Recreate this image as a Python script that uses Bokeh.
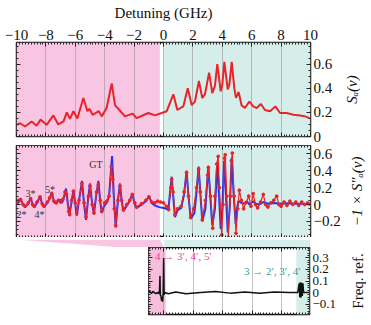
import math
from bokeh.plotting import figure
from bokeh.layouts import column, row
from bokeh.models import (Range1d, LinearAxis, SingleIntervalTicker, BoxAnnotation, Spacer,
                          Label, CustomJSTickFormatter, Grid, ColumnDataSource, Title)
from bokeh.core.properties import value
from bokeh.embed import file_html
from bokeh.resources import INLINE

FONT = "Liberation Serif"
PINK = "#f8c6e3"
CYAN = "#d6eeea"
RED = "#e8232a"
BLUE = "#1f35f0"

# ---------------- data ----------------
# Panel 1: S_a(nu)
sa_x = [-10, -9.76, -9.42, -8.97, -8.63, -8.36, -7.95, -7.49, -7.16, -6.8, -6.58, -6.36, -6.13,
        -5.86, -5.45, -5.18, -5.04, -4.82, -4.4, -4.2, -3.87, -3.52, -3.3, -3.0, -2.62, -2.1,
        -1.83, -1.03, -0.58, -0.12, 0.22, 0.67, 0.94, 1.35, 1.65, 1.92, 2.14, 2.41, 2.64, 2.82,
        3.1, 3.32, 3.5, 3.66, 3.89, 4.0, 4.14, 4.37, 4.48, 4.64, 4.82, 4.93, 5.11, 5.31, 5.54,
        5.84, 6.11, 6.34, 6.63, 6.9, 7.25, 7.61, 7.93, 8.38, 8.84, 9.3, 9.63, 9.93]
sa_y = [0.097, 0.11, 0.083, 0.125, 0.09, 0.14, 0.097, 0.175, 0.10, 0.125, 0.2, 0.147, 0.21,
        0.15, 0.32, 0.21, 0.23, 0.18, 0.21, 0.167, 0.236, 0.44, 0.26, 0.22, 0.167, 0.19,
        0.153, 0.195, 0.175, 0.195, 0.21, 0.35, 0.22, 0.25, 0.40, 0.26, 0.29, 0.46, 0.32, 0.35,
        0.53, 0.36, 0.42, 0.60, 0.375, 0.43, 0.62, 0.39, 0.43, 0.62, 0.40, 0.32, 0.37, 0.26, 0.236,
        0.29, 0.25, 0.236, 0.27, 0.22, 0.21, 0.25, 0.195, 0.195, 0.18, 0.175, 0.167, 0.153]

# Panel 2: model (blue) and measured (red) dispersion
mod_x = [-10, -9.85, -9.72, -9.55, -9.42, -9.2, -9.04, -8.9, -8.79, -8.6, -8.4, -8.25, -8.13,
         -7.9, -7.72, -7.6, -7.45, -7.38, -7.2, -7.04, -6.9, -6.75, -6.63, -6.5, -6.4, -6.28,
         -6.13, -6.0, -5.9, -5.72, -5.54, -5.4, -5.27, -5.12, -5.0, -4.85, -4.73, -4.57, -4.43,
         -4.3, -4.2, -4.05, -3.87, -3.7, -3.5, -3.38, -3.25, -3.1, -2.96, -2.85, -2.73, -2.5,
         -2.3, -2.12, -1.95, -1.83, -1.5, -1.2, -0.99, -0.8, -0.6, -0.3, 0.0, 0.2, 0.33, 0.45,
         0.56, 0.66, 0.78, 0.95, 1.2, 1.4, 1.57, 1.7, 1.85, 2.1, 2.25, 2.39, 2.52, 2.64, 2.85,
         3.05, 3.18, 3.32, 3.5, 3.66, 3.78, 3.89, 4.0, 4.12, 4.25, 4.37, 4.5, 4.64, 4.78, 4.91,
         5.0, 5.09, 5.3, 5.45, 5.66, 5.85, 6.11, 6.3, 6.5, 6.79, 7.1, 7.4, 7.7, 8.0, 8.5, 9.0,
         9.5, 10.0]
mod_y = [0.0, 0.03, 0.06, 0.0, -0.03, 0.01, 0.08, 0.0, -0.03, 0.02, 0.10, 0.0, -0.03,
         0.02, 0.08, 0.15, 0.03, 0.02, 0.04, 0.06, 0.02, 0.10, 0.19, 0.0, -0.11, 0.0,
         0.17, 0.0, -0.13, 0.08, 0.28, 0.0, -0.18, 0.08, 0.25, 0.0, -0.11, 0.12, 0.28,
         0.03, -0.1, -0.02, 0.02, 0.1, 0.575, 0.1, -0.27, 0.05, 0.25, 0.05, -0.08, -0.01,
         0.04, 0.13, 0.0, -0.04, 0.0, 0.04, 0.10, 0.02, -0.01, -0.03, -0.04, -0.05, -0.06, 0.15,
         0.33, 0.1, -0.15, -0.07, -0.04, 0.12, 0.40, 0.1, -0.17, -0.1, 0.15, 0.45, 0.1, -0.2, -0.05,
         0.46, 0.1, -0.25, -0.05, 0.50, 0.1, -0.29, -0.05, 0.52, 0.1, -0.33, -0.05, 0.55, 0.1, -0.23,
         -0.05, 0.04, 0.02, 0.01, 0.04, 0.0, 0.04, 0.01, 0.0, 0.03, 0.01, 0.02, 0.015, 0.01, 0.015, 0.01,
         0.01, 0.0]

meas_x = [-10, -9.85, -9.72, -9.55, -9.42, -9.2, -9.04, -8.9, -8.79, -8.6, -8.4, -8.25, -8.13,
          -7.9, -7.75, -7.6, -7.45, -7.3, -7.15, -7.0, -6.85, -6.7, -6.6, -6.45, -6.38, -6.25,
          -6.13, -6.0, -5.9, -5.75, -5.55, -5.4, -5.27, -5.1, -5.0, -4.85, -4.73, -4.55, -4.43,
          -4.3, -4.2, -4.0, -3.85, -3.7, -3.55, -3.45, -3.35, -3.25, -3.1, -2.96, -2.85, -2.73,
          -2.5, -2.3, -2.12, -1.95, -1.83, -1.5, -1.2, -0.99, -0.8, -0.6, -0.4, -0.2, 0.0,
          0.2, 0.35, 0.5, 0.56, 0.65, 0.78, 0.95, 1.2, 1.4, 1.57, 1.7, 1.85, 2.05, 2.25, 2.39,
          2.5, 2.64, 2.85, 3.0, 3.05, 3.2, 3.35, 3.5, 3.62, 3.72, 3.8, 3.96, 4.05, 4.15, 4.2,
          4.3, 4.41, 4.55, 4.62, 4.68, 4.8, 4.93, 5.05, 5.16, 5.3, 5.45, 5.6, 5.8, 5.95, 6.1,
          6.25, 6.4, 6.6, 6.79, 6.95, 7.1, 7.3, 7.5, 7.7, 7.85, 8.0, 8.2, 8.4, 8.6, 8.8, 9.0,
          9.2, 9.4, 9.6, 9.8, 10.0]
meas_y = [0.01, 0.05, 0.06, 0.0, -0.02, 0.02, 0.07, 0.0, -0.02, 0.03, 0.09, 0.01, -0.02,
          0.03, 0.08, 0.13, 0.04, 0.02, 0.05, 0.03, 0.06, 0.15, 0.12, -0.08, -0.12, 0.05,
          0.16, 0.02, -0.10, 0.05, 0.25, 0.02, -0.15, 0.1, 0.22, 0.0, -0.1, 0.15, 0.24,
          0.05, -0.08, 0.02, 0.04, 0.1, 0.45, 0.3, -0.05, -0.25, 0.05, 0.22, 0.05, -0.06,
          0.0, 0.05, 0.12, 0.02, -0.03, 0.01, 0.05, 0.09, 0.03, 0.02, 0.04, 0.03, 0.02,
          -0.02, -0.06, 0.2, 0.30, 0.15, -0.12, -0.05, -0.02, 0.15, 0.38, 0.1, -0.15, -0.05, 0.2, 0.42,
          0.15, -0.18, 0.05, 0.35, 0.44, 0.1, -0.28, 0.1, 0.48, 0.57, 0.2, -0.36, 0.0, 0.55, 0.59,
          0.1, -0.39, 0.1, 0.52, 0.61, 0.1, -0.34, -0.05, 0.17, 0.05, -0.05, 0.02, 0.10, -0.02, 0.13,
          0.0, -0.04, 0.03, 0.12, 0.0, -0.03, 0.02, 0.05, 0.10, 0.0, -0.02, 0.03, -0.01, 0.04, 0.0, 0.03,
          -0.01, 0.03, 0.0, 0.02, 0.01]

# Panel 3: frequency reference
ref_x = [-1.05, -0.95, -0.85, -0.75, -0.65, -0.55, -0.45, -0.35, -0.3, -0.27, -0.25, -0.2,
         -0.17, -0.13, -0.09, -0.05, -0.02, 0.01, 0.05, 0.3, 0.8, 1.5, 2.5, 3.5, 4.5, 5.5,
         6.5, 7.5, 8.5, 9.1, 9.2, 9.24, 9.28, 9.32, 9.37, 9.41, 9.45, 9.5, 9.7, 9.9]
ref_y = [0.0, 0.01, -0.01, 0.01, 0.0, -0.01, 0.0, -0.01, 0.02, 0.145, -0.02, -0.03,
         -0.07, -0.04, -0.08, 0.0, 0.30, -0.02, 0.0, -0.01, 0.005, -0.01, 0.0, 0.01, -0.005, 0.005,
         -0.005, 0.005, 0.0, 0.0, 0.08, -0.04, 0.09, -0.045, 0.085, -0.03, 0.08, 0.0, 0.0, 0.0]

peak_labels = ["2*", "3*", "4*", "5*", "GT"]
peak_lx = [-9.66, -9.05, -8.44, -7.72, -4.59]
peak_ly = [-0.118, 0.134, -0.118, 0.175, 0.48]

pink_span = (-10, -0.25)
cyan_span = (0, 10)
ref_pink_span = (-1.05, 0.12)
ref_cyan_span = (9.0, 9.9)

# ---------------- helpers ----------------
fmt = CustomJSTickFormatter(code="""
const v = Math.round(tick*100)/100;
return (v < 0 ? '\u2212' : '') + Math.abs(v).toString();
""")
blank_fmt = CustomJSTickFormatter(code="return '';")


def style_axis(ax, labels, size="15px"):
    ax.major_tick_in = 4
    ax.major_tick_out = 0
    ax.minor_tick_in = 2
    ax.minor_tick_out = 0
    ax.axis_line_color = None
    ax.major_tick_line_color = "#222222"
    ax.minor_tick_line_color = "#222222"
    ax.major_tick_line_width = 1
    ax.minor_tick_line_width = 1
    ax.major_label_text_font = FONT
    ax.major_label_text_color = "#111111"
    ax.major_label_text_font_size = size
    if labels:
        ax.major_label_standoff = 3
        ax.formatter = fmt
    else:
        ax.major_label_standoff = 0
        ax.formatter = blank_fmt


def make_panel(xr, yr, fw, fh, mbl, mbr, mbt, mbb, xint, xminor, yint, yminor,
               top_labels=False, ysize="15px"):
    p = figure(x_range=xr, y_range=yr, frame_width=fw, frame_height=fh,
               x_axis_type=None, y_axis_type=None, output_backend="svg",
               toolbar_location=None, min_border_left=mbl, min_border_right=mbr,
               min_border_top=mbt, min_border_bottom=mbb)
    p.outline_line_color = "#111111"
    p.outline_line_width = 1.5
    p.background_fill_color = "white"
    p.border_fill_color = None
    for side in ["above", "below"]:
        ax = LinearAxis(ticker=SingleIntervalTicker(interval=xint, num_minor_ticks=xminor))
        style_axis(ax, labels=(side == "above" and top_labels))
        p.add_layout(ax, side)
    for side in ["left", "right"]:
        ax = LinearAxis(ticker=SingleIntervalTicker(interval=yint, num_minor_ticks=yminor))
        style_axis(ax, labels=(side == "right"), size=ysize)
        p.add_layout(ax, side)
    g = Grid(dimension=0, ticker=SingleIntervalTicker(interval=xint, num_minor_ticks=xminor),
             grid_line_color="#9a9a9a", grid_line_alpha=0.6, grid_line_width=1)
    p.add_layout(g)
    return p


def label_fig(text, style, fh, mbt, mbb):
    f = figure(frame_width=1, frame_height=fh, x_axis_type=None, y_axis_type=None,
               output_backend="svg", toolbar_location=None, min_border_left=0,
               min_border_right=0, min_border_top=mbt, min_border_bottom=mbb)
    f.outline_line_color = None
    f.background_fill_color = None
    f.border_fill_color = None
    f.grid.visible = False
    f.add_layout(Title(text=text, align="center", text_font=FONT, text_font_size="15px",
                       text_font_style=style, text_color="#111111", standoff=0), "left")
    return f


def add_spans(p, spans, colors):
    for (l, r), c in zip(spans, colors):
        b = BoxAnnotation(left=l, right=r, fill_color=c, fill_alpha=1.0, line_color=None, level="image")
        p.add_layout(b)


# ---------------- panel 1 ----------------
p1 = make_panel(Range1d(-10, 10), Range1d(0, 0.78), 294, 94, 16, 31, 0, 9, 2, 10, 0.2, 4,
                top_labels=True)
top_ax = p1.above[0]
top_ax.axis_label = "Detuning (GHz)"
top_ax.axis_label_text_font = FONT
top_ax.axis_label_text_font_style = "normal"
top_ax.axis_label_text_font_size = "15px"
top_ax.axis_label_text_color = "#111111"
top_ax.axis_label_standoff = 6
add_spans(p1, [pink_span, cyan_span], [PINK, CYAN])
p1.line(sa_x, sa_y, line_color=RED, line_width=2)
l1 = label_fig("Sₐ(ν)", "italic", 94, 42, 9)

# ---------------- panel 2 ----------------
p2 = make_panel(Range1d(-10, 10), Range1d(-0.39, 0.70), 294, 92, 16, 36, 0, 0, 2, 10, 0.2, 4)
add_spans(p2, [pink_span, cyan_span], [PINK, CYAN])
p2.line(mod_x, mod_y, line_color=BLUE, line_width=2)
p2.line(meas_x, meas_y, line_color=RED, line_width=1.2)
p2.scatter(meas_x, meas_y, size=2.8, color=RED)
src = ColumnDataSource(dict(x=peak_lx, y=peak_ly, t=peak_labels))
p2.text(x="x", y="y", text="t", source=src, text_font=value(FONT), text_font_size="10px",
        text_align="center", text_baseline="middle", text_color="#333333")
l2 = label_fig("−1 × S″ₐ(ν)", "italic", 92, 0, 0)

# ---------------- connector ----------------
conn = figure(x_range=Range1d(-10, 10), y_range=Range1d(0, 1), width=310, height=10,
              x_axis_type=None, y_axis_type=None, output_backend="svg", toolbar_location=None,
              min_border_left=16, min_border_right=0, min_border_top=0, min_border_bottom=0)
conn.outline_line_color = None
conn.background_fill_color = None
conn.border_fill_color = None
conn.patch([cyan_span[0], cyan_span[1], ref_cyan_span[1] + 0.1, ref_pink_span[1]], [1, 1, 0, 0],
           fill_color=CYAN, line_color=None)
conn.patch([pink_span[0], pink_span[1], ref_pink_span[1], ref_pink_span[0]], [1, 1, 0, 0],
           fill_color=PINK, line_color=None)

# ---------------- panel 3 ----------------
p3 = make_panel(Range1d(-1.05, 9.9), Range1d(-0.19, 0.39), 161, 67, 0, 38, 0, 3, 2, 10, 0.1, 5,
                ysize="13px")
add_spans(p3, [ref_pink_span, ref_cyan_span], ["#f5bfdc", CYAN])
p3.line(ref_x, ref_y, line_color="#111111", line_width=1.5)
p3.add_layout(Label(x=-0.6, y=0.315, text="4 → 3′, 4′, 5′", text_align="left", text_baseline="middle",
                    text_font=FONT, text_font_size="11px", text_color="#ec3e97"))
p3.add_layout(Label(x=9.3, y=0.19, text="3 → 2′, 3′, 4′", text_align="right", text_baseline="middle",
                    text_font=FONT, text_font_size="11px", text_color="#2e9f98"))
l3 = label_fig("Freq. ref.", "normal", 67, 0, 3)

layout = column(row(p1, l1), row(p2, l2), conn, row(Spacer(width=148, height=10), p3, l3))
open("out.html", "w").write(file_html(layout, INLINE))
